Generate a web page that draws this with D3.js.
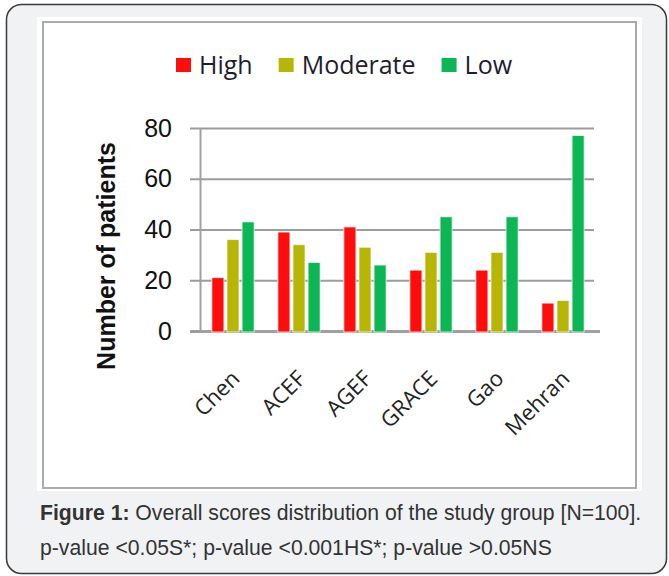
<!DOCTYPE html>
<html>
<head>
<meta charset="utf-8">
<script src="https://cdn.jsdelivr.net/npm/d3@7"></script>
<style>
  html, body { margin: 0; padding: 0; background: #ffffff; }
  svg { display: block; }
</style>
</head>
<body>
<svg id="chart"></svg>
<script>
// Chart data
const categories = ["Chen", "ACEF", "AGEF", "GRACE", "Gao", "Mehran"];
const seriesNames = ["High", "Moderate", "Low"];
const highValues = [21, 39, 41, 24, 24, 11];
const moderateValues = [36, 34, 33, 31, 31, 12];
const lowValues = [43, 27, 26, 45, 45, 77];
const yTicks = [0, 20, 40, 60, 80];
const seriesColors = ["#ff0d0d", "#b7b606", "#0bb754"];

const captionBold = "Figure 1:";
const captionLine1 = " Overall scores distribution of the study group [N=100].";
const captionLine2 = "p-value <0.05S*; p-value <0.001HS*; p-value >0.05NS";

const seriesValues = [highValues, moderateValues, lowValues];

// Canvas
const canvas = { width: 669, height: 576 };
const plot = { left: 200, right: 596, top: 128, bottom: 331 };

const svg = d3.select("#chart")
  .attr("width", canvas.width)
  .attr("height", canvas.height);

// Page frame around figure + caption
svg.append("rect")
  .attr("x", 6.5).attr("y", 4.5)
  .attr("width", 660).attr("height", 569)
  .attr("rx", 15)
  .attr("fill", "#f1f2f4")
  .attr("stroke", "#3a3a3a")
  .attr("stroke-width", 1.5);

// White picture area with grey frame
svg.append("rect")
  .attr("x", 37).attr("y", 17)
  .attr("width", 605).attr("height", 474)
  .attr("fill", "#ffffff");

svg.append("rect")
  .attr("x", 43).attr("y", 22)
  .attr("width", 593).attr("height", 466)
  .attr("fill", "none")
  .attr("stroke", "#ababab")
  .attr("stroke-width", 2);

// Scales
const x0 = d3.scaleBand()
  .domain(categories)
  .range([plot.left, plot.right])
  .paddingInner(0.36)
  .paddingOuter(0.18);

const x1 = d3.scaleBand()
  .domain(seriesNames)
  .range([0, x0.bandwidth()])
  .paddingInner(0.2);

const y = d3.scaleLinear()
  .domain([0, 80])
  .range([plot.bottom, plot.top]);

// Gridlines
svg.append("g")
  .attr("transform", "translate(" + plot.left + ",0)")
  .call(d3.axisLeft(y).tickValues(yTicks).tickSize(-(plot.right - plot.left - 2)).tickFormat(""))
  .call((g) => g.select(".domain").remove())
  .call((g) => g.selectAll("line").attr("stroke", "#9c9c9c").attr("stroke-width", 2));

// Floor
svg.append("line")
  .attr("x1", plot.left - 10).attr("x2", plot.right + 4)
  .attr("y1", y(0) + 0.5).attr("y2", y(0) + 0.5)
  .attr("stroke", "#a0a0a0")
  .attr("stroke-width", 3);

// Y axis
const yAxisG = svg.append("g")
  .attr("transform", "translate(" + plot.left + ",0)")
  .call(d3.axisLeft(y).tickValues(yTicks).tickSize(10).tickSizeOuter(0).tickPadding(18));

yAxisG.select(".domain").attr("stroke", "#a0a0a0").attr("stroke-width", 2);
yAxisG.selectAll(".tick line").attr("stroke", "#9c9c9c").attr("stroke-width", 2);
yAxisG.selectAll(".tick text")
  .attr("font-family", "'Liberation Sans', Arial, sans-serif")
  .attr("font-size", 25)
  .attr("fill", "#111111");

// Bars
const groups = svg.append("g")
  .selectAll("g")
  .data(categories)
  .enter()
  .append("g")
  .attr("transform", (d) => "translate(" + x0(d) + ",0)");

groups.selectAll("rect")
  .data((d, i) => seriesNames.map((s, k) => ({ series: s, k: k, value: seriesValues[k][i] })))
  .enter()
  .append("rect")
  .attr("x", (d) => x1(d.series))
  .attr("width", x1.bandwidth())
  .attr("y", (d) => y(d.value))
  .attr("height", (d) => y(0) - y(d.value) + 1)
  .attr("fill", (d) => seriesColors[d.k])
  .attr("stroke", "#f4f4f4")
  .attr("stroke-width", 0.8);

// Category labels
const xAxisG = svg.append("g")
  .attr("transform", "translate(0," + y(0) + ")")
  .call(d3.axisBottom(x0).tickSize(0));

xAxisG.select(".domain").remove();
xAxisG.selectAll(".tick text")
  .attr("x", 0).attr("y", 0).attr("dy", 0)
  .attr("text-anchor", "end")
  .attr("transform", "translate(8,49) rotate(-45)")
  .attr("font-family", "'Open Sans', sans-serif")
  .attr("font-size", 22)
  .attr("fill", "#222222");

// Y axis title
svg.append("text")
  .attr("transform", "translate(115,256) rotate(-90)")
  .attr("text-anchor", "middle")
  .attr("font-family", "'Liberation Sans', Arial, sans-serif")
  .attr("font-weight", "bold")
  .attr("font-size", 25)
  .attr("fill", "#111111")
  .text("Number of patients");

// Legend
const legend = svg.append("g").attr("transform", "translate(176,0)");
let legendX = 0;
seriesNames.forEach((name, k) => {
  const item = legend.append("g").attr("transform", "translate(" + legendX + ",0)");
  item.append("rect")
    .attr("x", 0).attr("y", 58)
    .attr("width", 15).attr("height", 14)
    .attr("fill", seriesColors[k]);
  const t = item.append("text")
    .attr("x", 23).attr("y", 74)
    .attr("font-family", "'Open Sans', sans-serif")
    .attr("font-size", 25)
    .attr("fill", "#1d1d2e")
    .text(name);
  legendX += 23 + t.node().getComputedTextLength() + 26;
});

// Caption
const cap1 = svg.append("text")
  .attr("x", 40).attr("y", 520)
  .attr("font-family", "'Liberation Sans', Arial, sans-serif")
  .attr("font-size", 21.2)
  .attr("fill", "#333333");
cap1.append("tspan").attr("font-weight", "bold").text(captionBold);
cap1.append("tspan").text(captionLine1);

svg.append("text")
  .attr("x", 40).attr("y", 555)
  .attr("font-family", "'Liberation Sans', Arial, sans-serif")
  .attr("font-size", 21.2)
  .attr("fill", "#333333")
  .text(captionLine2);
</script>
</body>
</html>
